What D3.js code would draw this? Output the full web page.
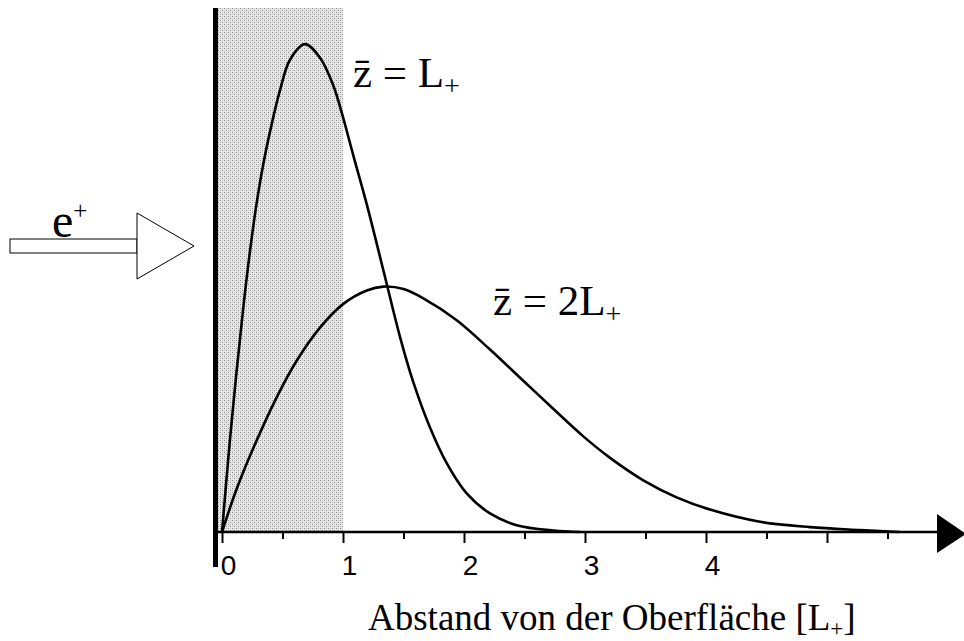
<!DOCTYPE html>
<html>
<head>
<meta charset="utf-8">
<script src="https://cdn.jsdelivr.net/npm/d3@7"></script>
<style>
  html, body { margin: 0; padding: 0; background: #fff; }
  svg { display: block; }
</style>
</head>
<body>
<div id="chart"></div>
<script>
// Depth profiles of implanted positrons (Makhov type), two mean depths.
const depthL1 = [0, 0.066, 0.121, 0.176, 0.231, 0.287, 0.342, 0.41, 0.479, 0.562, 0.686, 0.81, 0.92, 0.989, 1.085, 1.196, 1.333, 1.471, 1.581, 1.719, 1.857, 2.022, 2.215, 2.435, 2.74, 2.96];
const profileL1 = [0, 0.19, 0.33, 0.46, 0.575, 0.675, 0.755, 0.835, 0.905, 0.968, 1.0, 0.972, 0.915, 0.86, 0.772, 0.672, 0.537, 0.40, 0.307, 0.214, 0.141, 0.079, 0.038, 0.014, 0.003, 0];

const depthL2 = [0, 0.121, 0.259, 0.452, 0.617, 0.81, 1.0, 1.196, 1.333, 1.5, 1.664, 1.94, 2.215, 2.49, 2.766, 2.986, 3.207, 3.482, 3.757, 4.033, 4.446, 4.86, 5.27, 5.6];
const profileL2 = [0, 0.088, 0.172, 0.276, 0.351, 0.419, 0.467, 0.495, 0.503, 0.498, 0.479, 0.434, 0.374, 0.31, 0.246, 0.196, 0.152, 0.106, 0.071, 0.046, 0.021, 0.01, 0.004, 0];

const majorTicks = [0, 1, 2, 3, 4, 5];
const majorTickLabels = ["0", "1", "2", "3", "4", ""];
const minorTicks = [0.5, 1.5, 2.5, 3.5, 4.5, 5.5];
const shadedRange = [0, 1];

const W = 964, H = 641;
const svg = d3.select("#chart").append("svg")
  .attr("width", W).attr("height", H)
  .attr("viewBox", `0 0 ${W} ${H}`);

const x = d3.scaleLinear().domain([0, 6]).range([222, 948]);
const y = d3.scaleLinear().domain([0, 1.074]).range([532, 8]);

// stipple pattern for the surface layer
const defs = svg.append("defs");
const pat = defs.append("pattern")
  .attr("id", "stipple").attr("patternUnits", "userSpaceOnUse")
  .attr("width", 4).attr("height", 4);
pat.append("rect").attr("width", 4).attr("height", 4).attr("fill", "#e8e8e8");
[[0, 0, "#8a8a8a"], [2, 2, "#8a8a8a"], [2, 0, "#c6c6c6"], [0, 2, "#c6c6c6"]].forEach(([px, py, c]) =>
  pat.append("rect").attr("x", px).attr("y", py).attr("width", 1).attr("height", 1)
    .attr("fill", c).attr("shape-rendering", "crispEdges"));

const wallRight = x(0) - 4;
svg.append("rect")
  .attr("x", wallRight).attr("y", y.range()[1])
  .attr("width", x(shadedRange[1]) - wallRight)
  .attr("height", y(0) - y.range()[1])
  .attr("fill", "url(#stipple)");

// profile curves
const line = d3.line()
  .x(d => x(d[0])).y(d => y(Math.max(0, d[1])))
  .curve(d3.curveCatmullRom.alpha(0.5));
[[depthL1, profileL1], [depthL2, profileL2]].forEach(([xs, ys]) => {
  svg.append("path")
    .datum(xs.map((v, i) => [v, ys[i]]))
    .attr("d", line)
    .attr("fill", "none").attr("stroke", "#000")
    .attr("stroke-width", 2.6).attr("stroke-linejoin", "round");
});

// x axis with arrow head
const axisY = y(0);
const arrowBase = 937;
svg.append("line")
  .attr("x1", wallRight).attr("x2", arrowBase + 2)
  .attr("y1", axisY).attr("y2", axisY)
  .attr("stroke", "#000").attr("stroke-width", 2.5);
svg.append("path")
  .attr("d", `M${arrowBase},${axisY - 18} L${arrowBase + 29},${axisY + 2} L${arrowBase},${axisY + 21} Z`)
  .attr("fill", "#000");

const major = svg.append("g").attr("transform", `translate(0,${axisY})`)
  .call(d3.axisBottom(x).tickValues(majorTicks)
    .tickFormat((d, i) => majorTickLabels[i]).tickSize(11).tickPadding(12));
const minor = svg.append("g").attr("transform", `translate(0,${axisY})`)
  .call(d3.axisBottom(x).tickValues(minorTicks).tickFormat("").tickSize(7));
[major, minor].forEach(g => {
  g.select(".domain").remove();
  g.selectAll(".tick line").attr("stroke", "#000").attr("stroke-width", 2);
});
major.selectAll(".tick text")
  .attr("fill", "#000")
  .attr("dx", 6)
  .style("font-family", "'Liberation Sans', Arial, sans-serif")
  .style("font-size", "28px");

// surface wall
svg.append("rect")
  .attr("x", x(0) - 9).attr("y", y.range()[1])
  .attr("width", 5).attr("height", 567 - y.range()[1])
  .attr("fill", "#000");

const serif = "'Liberation Serif', 'Times New Roman', serif";

// axis title
const title = svg.append("text")
  .attr("x", 368).attr("y", 630)
  .style("font-family", serif).style("font-size", "37px").attr("fill", "#000");
title.append("tspan").text("Abstand von der Oberfläche [L");
title.append("tspan").text("+").style("font-size", "23px").attr("dy", 6);
title.append("tspan").text("]").attr("dy", -6);

// curve labels
function depthLabel(px, py, coeff) {
  const t = svg.append("text").attr("x", px).attr("y", py)
    .style("font-family", serif).style("font-size", "43px").attr("fill", "#000");
  t.append("tspan").text("z\u0304 = " + coeff + "L");
  t.append("tspan").text("+").style("font-size", "28px").attr("dy", 8);
}
depthLabel(353, 87, "");
depthLabel(493, 315, "2");

// incoming positron beam
const beam = svg.append("g").attr("fill", "#fff").attr("stroke", "#000").attr("stroke-width", 1);
beam.append("rect").attr("x", 10).attr("y", 239).attr("width", 127).attr("height", 14);
beam.append("path").attr("d", "M137,213 L194,246 L137,279 Z");
const ep = svg.append("text").attr("x", 52).attr("y", 237)
  .style("font-family", serif).style("font-size", "48px").attr("fill", "#000");
ep.append("tspan").text("e");
ep.append("tspan").text("+").style("font-size", "25px").attr("dy", -18);
</script>
</body>
</html>
